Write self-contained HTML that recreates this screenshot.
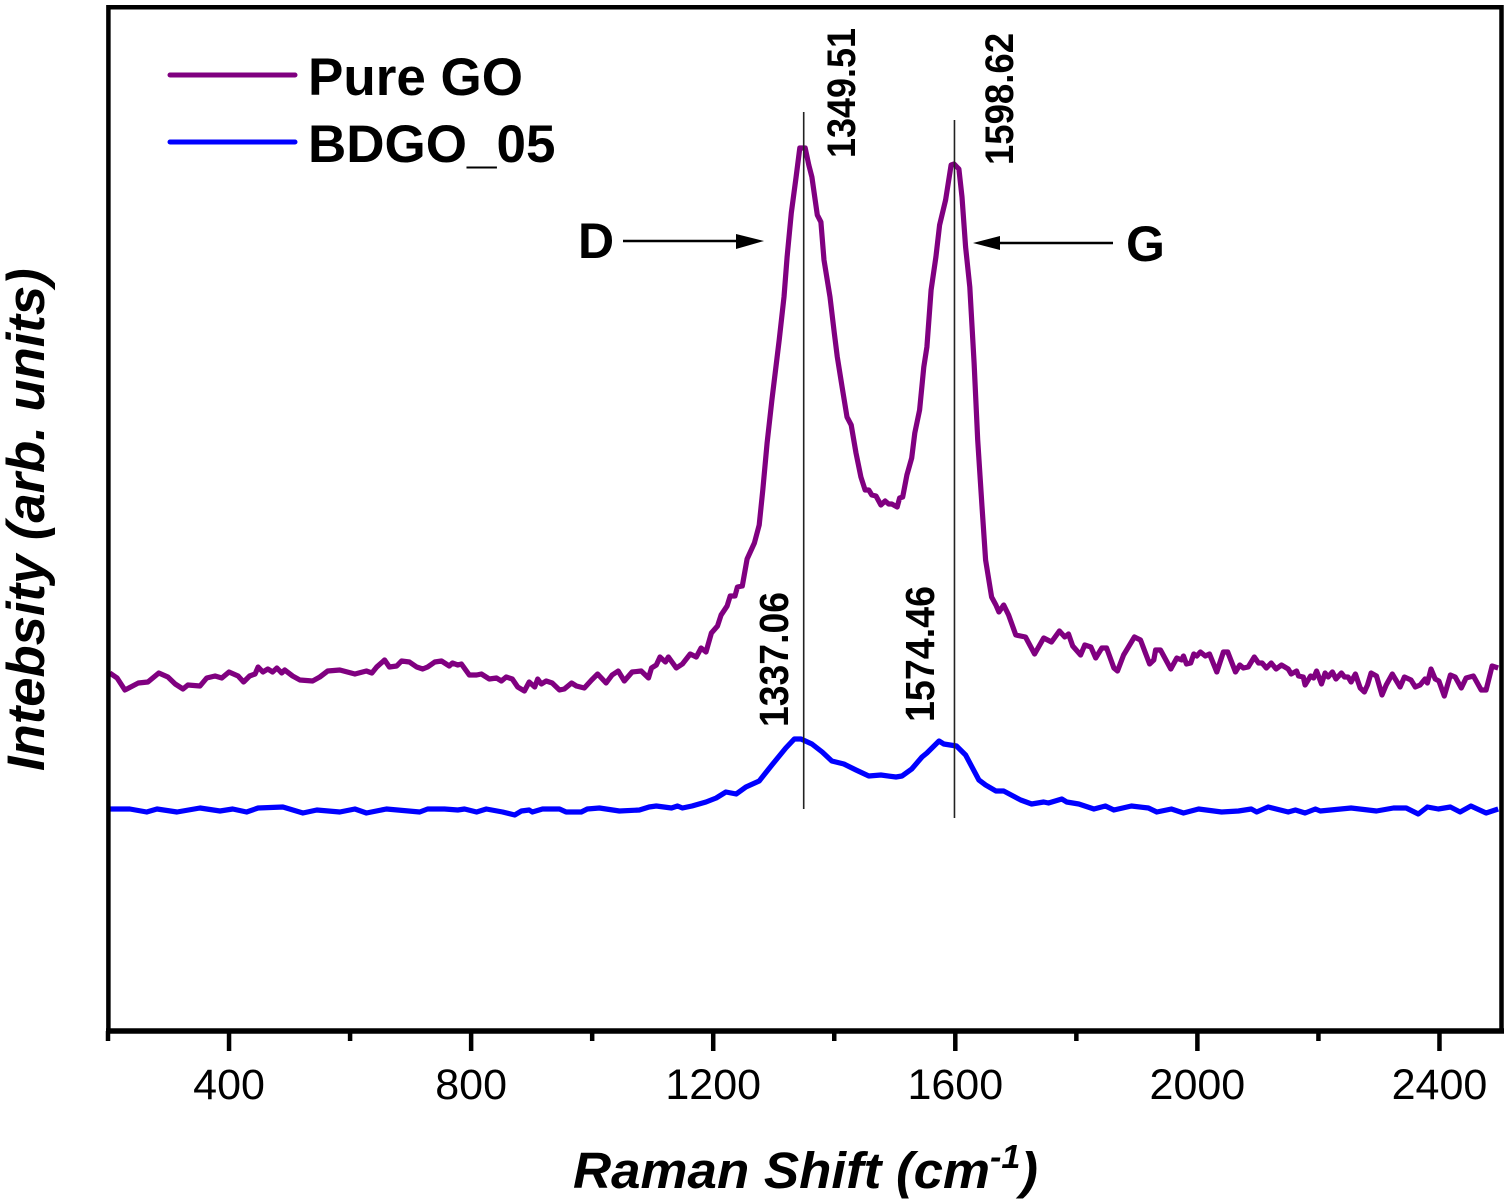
<!DOCTYPE html>
<html lang="en">
<head>
<meta charset="utf-8">
<title>Raman spectra of Pure GO and BDGO_05</title>
<style>
html,body{margin:0;padding:0;background:#fff;width:1508px;height:1202px;overflow:hidden}
svg{display:block}
text{font-family:"Liberation Sans",Arial,sans-serif;fill:#000}
</style>
</head>
<body>
<svg id="chart" xmlns="http://www.w3.org/2000/svg" width="1508" height="1202" viewBox="0 0 1508 1202">
  <rect x="0" y="0" width="1508" height="1202" fill="#fff"/>
  <g id="series-layer"></g>
  <g id="annotation-layer"></g>
  <g id="axis-layer"></g>

  <g>
    <line x1="170" y1="75" x2="295" y2="75" stroke="#800080" stroke-width="5" stroke-linecap="round"/>
    <text x="308" y="95" font-size="53" font-weight="700">Pure GO</text>
    <line x1="170" y1="142" x2="295" y2="142" stroke="#0000ff" stroke-width="5" stroke-linecap="round"/>
    <text x="308" y="162" font-size="53" font-weight="700">BDGO_05</text>
  </g>

  <g>
    <text x="578" y="258" font-size="50" font-weight="700">D</text>
    <line x1="623" y1="241" x2="740" y2="241" stroke="#000" stroke-width="2.4"/>
    <polygon points="736,234 764,241 736,249" fill="#000"/>
  </g>
  <g>
    <text x="1126" y="261" font-size="50" font-weight="700">G</text>
    <line x1="995" y1="243" x2="1113" y2="243" stroke="#000" stroke-width="2.4"/>
    <polygon points="973,243 1000,236 1000,250" fill="#000"/>
  </g>

  <text x="573" y="1188" font-size="51" font-weight="700" font-style="italic" textLength="465" lengthAdjust="spacingAndGlyphs">Raman Shift (cm<tspan dy="-20" font-size="33">-1</tspan><tspan dy="20">)</tspan></text>
  <text transform="translate(44 771) rotate(-90)" font-size="52.6" font-weight="700" font-style="italic">Intebsity (arb. units)</text>
</svg>

<script>
// Raman shift (cm-1) and intensity (arb. units)
const goShift = [203,215,228,250,266,284,299,311,324,332,352,363,377,388,400,415,424,434,443,448,456,464,472,479,487,492,505,517,538,550,563,583,608,627,636,644,657,665,677,685,698,710,720,728,740,751,764,769,778,784,797,809,817,830,842,850,858,868,877,888,896,905,910,916,924,934,946,954,966,974,987,999,1009,1023,1033,1043,1053,1066,1081,1093,1098,1106,1112,1121,1126,1139,1149,1162,1172,1180,1188,1197,1207,1213,1223,1228,1236,1240,1248,1256,1268,1276,1282,1289,1297,1309,1317,1322,1329,1337,1343,1352,1358,1363,1372,1378,1383,1393,1400,1405,1413,1421,1428,1436,1444,1451,1457,1462,1469,1477,1484,1490,1495,1504,1508,1513,1520,1528,1533,1541,1548,1553,1560,1568,1574,1584,1593,1598,1606,1611,1617,1624,1631,1637,1644,1650,1660,1667,1672,1680,1688,1700,1716,1731,1746,1759,1772,1781,1787,1794,1807,1814,1824,1832,1842,1850,1862,1868,1878,1896,1906,1921,1928,1931,1939,1956,1966,1974,1977,1982,1989,1994,1999,2005,2013,2020,2032,2043,2050,2063,2070,2076,2084,2094,2101,2107,2114,2122,2130,2139,2150,2155,2164,2167,2175,2178,2187,2192,2197,2205,2211,2216,2223,2229,2238,2243,2249,2254,2261,2269,2276,2281,2287,2296,2305,2312,2322,2335,2342,2353,2360,2368,2376,2380,2386,2393,2399,2408,2418,2426,2436,2444,2456,2469,2477,2487,2497];
const goIntensity = [362,357,345,352,353,362,358,351,346,350,349,357,359,357,363,359,353,359,361,368,363,366,363,367,362,365,359,355,354,358,364,365,361,364,362,368,375,368,369,374,373,368,366,368,373,374,369,372,370,371,360,360,361,356,357,354,358,356,348,344,353,348,356,351,354,352,345,346,352,349,347,355,361,352,360,364,354,363,364,357,367,370,378,373,378,367,371,381,378,387,383,402,409,420,429,439,439,448,449,476,492,510,545,592,635,695,738,778,822,858,887,887,870,858,820,813,775,738,702,678,648,618,610,582,558,545,545,540,539,530,534,531,531,528,537,538,560,577,602,625,668,688,745,778,810,835,870,871,866,838,788,748,672,595,530,475,438,430,423,430,420,400,398,381,397,393,404,398,401,389,380,390,388,377,387,387,367,364,380,398,395,371,375,385,385,366,377,375,379,371,372,381,379,383,379,381,363,383,383,363,370,367,368,378,372,372,367,372,366,370,366,361,364,359,358,350,359,357,364,351,362,358,363,356,362,358,358,353,361,347,343,350,362,359,340,350,361,348,358,355,348,350,356,352,366,356,354,339,360,358,347,357,359,345,345,369,367];

const bdgoShift = [203,236,264,281,314,352,385,406,429,448,489,522,545,583,608,627,660,715,728,756,778,789,809,825,852,872,883,896,901,918,946,957,982,992,1012,1045,1078,1094,1106,1131,1141,1149,1165,1188,1205,1221,1238,1254,1276,1297,1320,1334,1345,1363,1380,1396,1416,1436,1457,1477,1502,1512,1528,1545,1553,1573,1581,1602,1617,1639,1650,1667,1680,1708,1726,1746,1754,1776,1784,1804,1829,1848,1862,1891,1919,1933,1957,1977,2002,2040,2068,2089,2098,2117,2150,2162,2178,2195,2203,2254,2296,2324,2345,2365,2380,2398,2418,2434,2452,2477,2497];
const bdgoIntensity = [226,226,223,226,223,227,224,226,223,227,228,222,225,223,226,222,226,223,226,226,225,226,223,226,223,220,224,225,223,226,226,223,223,226,227,224,225,228,229,227,229,227,229,233,237,243,241,248,254,270,287,296,296,291,283,274,271,265,259,260,258,259,266,278,282,294,291,289,280,255,250,244,244,235,231,233,232,236,233,231,226,229,225,229,227,223,226,222,226,223,224,226,223,228,223,225,222,226,224,227,224,227,227,221,228,226,228,223,229,222,226];

// Axis ticks
const majorTicks = [400,800,1200,1600,2000,2400];
const minorTicks = [200,600,1000,1400,1800,2200];
const majorTickLabels = ["400","800","1200","1600","2000","2400"];

// Peak annotations
const peakMarkers = [1349.51,1598.62];
const peakMarkerLabels = ["1349.51","1598.62"];
const secondaryPeakLabels = ["1337.06","1574.46"];

const SVG_NS = "http://www.w3.org/2000/svg";
const plot = {left:108,right:1500,top:7,bottom:1031};
const xDomain = [200,2500];

function xScale(v){
  return plot.left + (v - xDomain[0]) * (plot.right - plot.left) / (xDomain[1] - xDomain[0]);
}
function yScale(v){
  return 1035 - v;
}
function make(tag, attrs, parent){
  const el = document.createElementNS(SVG_NS, tag);
  for (const k in attrs) el.setAttribute(k, attrs[k]);
  parent.appendChild(el);
  return el;
}
function linePath(xs, ys){
  return xs.map(function(v,i){
    return (i ? "L" : "M") + xScale(v).toFixed(1) + " " + yScale(ys[i]).toFixed(1);
  }).join("");
}

const seriesLayer = document.getElementById("series-layer");
const annotationLayer = document.getElementById("annotation-layer");
const axisLayer = document.getElementById("axis-layer");

// Series
const goPath = make("path", {d:linePath(goShift, goIntensity), fill:"none", stroke:"#800080", "stroke-width":5.2, "stroke-linejoin":"round", "stroke-linecap":"butt"}, seriesLayer);


const bdgoPath = make("path", {d:linePath(bdgoShift, bdgoIntensity), fill:"none", stroke:"#0000ff", "stroke-width":5.2, "stroke-linejoin":"round", "stroke-linecap":"butt"}, seriesLayer);



// Peak reference lines
const markerTops = [112,120];
const markerBottoms = [809,818];
peakMarkers.forEach(function(p,i){
  const ln = make("line", {x1:xScale(p), x2:xScale(p), y1:markerTops[i], y2:markerBottoms[i], stroke:"#222", "stroke-width":1.6}, annotationLayer);
  
  
});

// Peak value labels
const labelAnchors = [[855,158],[1013,165]];
const labelLengths = [130,132];
peakMarkerLabels.forEach(function(t,i){
  const lb = make("text", {transform:"translate("+labelAnchors[i][0]+" "+labelAnchors[i][1]+") rotate(-90)", "font-size":40, "font-weight":700, textLength:labelLengths[i], lengthAdjust:"spacingAndGlyphs"}, annotationLayer);
  lb.textContent = t;
  
  
});
const labelAnchors2 = [[788,727],[934,722]];
const labelLengths2 = [135,136];
secondaryPeakLabels.forEach(function(t,i){
  const lb = make("text", {transform:"translate("+labelAnchors2[i][0]+" "+labelAnchors2[i][1]+") rotate(-90)", "font-size":41, "font-weight":700, textLength:labelLengths2[i], lengthAdjust:"spacingAndGlyphs"}, annotationLayer);
  lb.textContent = t;
  
  
});

// Frame
const frame = make("path", {d:"M108.4 1031V7.2H1501.5V1031", fill:"none", stroke:"#000", "stroke-width":4.5}, axisLayer);


const xAxisLine = make("line", {x1:106, x2:1504, y1:1031, y2:1031, stroke:"#000", "stroke-width":5.5}, axisLayer);



// Ticks
majorTicks.forEach(function(t,i){
  const tk = make("line", {x1:xScale(t), x2:xScale(t), y1:1031, y2:1051, stroke:"#000", "stroke-width":4.5}, axisLayer);
  
  
  const lb = make("text", {x:xScale(t), y:1099, "font-size":43, "text-anchor":"middle"}, axisLayer);
  lb.textContent = majorTickLabels[i];
  
  
});
minorTicks.forEach(function(t){
  const tk = make("line", {x1:xScale(t), x2:xScale(t), y1:1031, y2:1041, stroke:"#000", "stroke-width":4.5}, axisLayer);
  
  
});
</script>
</body>
</html>
